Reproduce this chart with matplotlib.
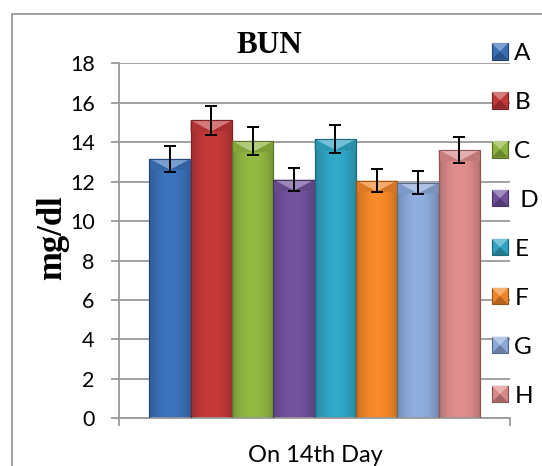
import numpy as np
import matplotlib
matplotlib.use("Agg")
import matplotlib.pyplot as plt
from matplotlib.patches import Rectangle, Polygon
from matplotlib.legend_handler import HandlerPatch
from matplotlib.colors import to_rgb

# ---- data ----
groups = ["A", "B", "C", " D", "E", "F", "G", "H"]
means = [13.15, 15.1, 14.05, 12.1, 14.15, 12.05, 11.95, 13.6]
errors = [0.65, 0.75, 0.7, 0.6, 0.7, 0.6, 0.6, 0.68]
colors = ["#3a6fb7", "#bf3737", "#8db33f", "#6f5099",
          "#2fa3c1", "#f08528", "#8aa7d7", "#d98888"]
category = "On 14th Day"
yticks = [0, 2, 4, 6, 8, 10, 12, 14, 16, 18]

SANS = ["Lato", "DejaVu Sans"]
SERIF = ["Liberation Serif", "DejaVu Serif"]
GRID = "#9a9a9a"


def mix(c, other, t):
    a = np.array(to_rgb(c))
    b = np.array(to_rgb(other))
    return tuple(a * (1 - t) + b * t)


fig = plt.figure(figsize=(5.42, 4.66), dpi=100)
ax = fig.add_axes([0.2203, 0.1024, 0.7207, 0.7618])

# outer chart-area border
fig.patches.append(Rectangle((0.0221, -0.1), 2.0, 1.0706, transform=fig.transFigure,
                             fill=False, edgecolor="#a0a0a0", linewidth=1.4))

# bar layout within the single category slot
n = len(groups)
group_frac = 0.847
bw = group_frac / n
start = (1 - group_frac) / 2
centers = [start + (i + 0.5) * bw for i in range(n)]

bevel_depth = 0.56
for xc, m, c in zip(centers, means, colors):
    x0 = xc - bw / 2
    bar = ax.bar(xc, m, width=bw, color=c, edgecolor=mix(c, "black", 0.35),
                 linewidth=0.8, zorder=2)[0]
    # horizontal shading across the bar face
    prof = np.linspace(-1, 1, 64)
    k = 1 - 0.22 * np.abs(prof) ** 2.2
    grad = np.array([[np.clip(np.array(to_rgb(c)) * kk * 1.04, 0, 1) for kk in k]])
    im = ax.imshow(grad, extent=(x0, x0 + bw, 0, m), aspect="auto",
                   interpolation="bilinear", zorder=2.5)
    im.set_clip_path(bar)
    # bevelled top
    ax.add_patch(Polygon([(x0, m), (x0 + bw, m), (xc, m - bevel_depth)],
                         closed=True, facecolor=mix(c, "white", 0.32),
                         edgecolor="none", zorder=3))
    ax.add_patch(Polygon([(x0, m), (xc, m - bevel_depth), (x0, m - bevel_depth)],
                         closed=True, facecolor=mix(c, "black", 0.08),
                         edgecolor="none", zorder=3))
    ax.add_patch(Polygon([(x0 + bw, m), (xc, m - bevel_depth), (x0 + bw, m - bevel_depth)],
                         closed=True, facecolor=mix(c, "black", 0.12),
                         edgecolor="none", zorder=3))
    ax.add_patch(Rectangle((x0, 0), bw, m, fill=False,
                           edgecolor=mix(c, "black", 0.35), linewidth=0.8, zorder=3.5))

ax.errorbar(centers, means, yerr=errors, fmt="none", ecolor="black",
            elinewidth=1.4, capsize=4.2, capthick=1.4, zorder=5)

ax.set_xlim(0, 1)
ax.set_ylim(0, 18)
ax.set_yticks(yticks)
ax.set_yticklabels([str(v) for v in yticks], fontfamily=SANS, fontsize=15.5)
ax.set_xticks([0, 1])
ax.set_xticklabels(["", ""])
ax.tick_params(axis="y", direction="out", length=5.8, width=1.3, color=GRID, pad=12)
ax.tick_params(axis="x", direction="out", length=5.8, width=1.3, color=GRID)
ax.yaxis.grid(True, color=GRID, linewidth=1.3)
ax.set_axisbelow(True)
for side in ("top", "right"):
    ax.spines[side].set_visible(False)
for side in ("left", "bottom"):
    ax.spines[side].set_color(GRID)
    ax.spines[side].set_linewidth(1.3)
ax.patch.set_alpha(0)

fig.text(0.4974, 0.8856, "BUN", ha="center", va="baseline", fontsize=22.5,
         fontweight="bold", family=SERIF)
fig.text(0.097, 0.49, "mg/dl", ha="center", va="center", rotation=90,
         fontsize=25, fontweight="bold", family=SERIF)
fig.text(0.581, 0.0086, category, ha="center", va="baseline", fontsize=17,
         family=SANS)


class BevelSquare(HandlerPatch):
    def create_artists(self, legend, orig_handle, xdescent, ydescent,
                       width, height, fontsize, trans):
        s = min(width, height)
        x0 = -xdescent + (width - s) / 2
        y0 = -ydescent + (height - s) / 2
        c = orig_handle.get_facecolor()
        cx, cy = x0 + s / 2, y0 + s / 2
        arts = [
            Rectangle((x0, y0), s, s, facecolor=c, edgecolor=mix(c, "black", 0.4),
                      linewidth=0.8, transform=trans),
            Polygon([(x0, y0 + s), (x0 + s, y0 + s), (cx, cy)],
                    facecolor=mix(c, "white", 0.35), edgecolor="none", transform=trans),
            Polygon([(x0, y0), (x0 + s, y0), (cx, cy)],
                    facecolor=mix(c, "black", 0.25), edgecolor="none", transform=trans),
        ]
        return arts


handles = [Rectangle((0, 0), 1, 1, facecolor=c) for c in colors]
fig.legend(handles, groups, loc="upper left", bbox_to_anchor=(0.9072, 0.908),
           frameon=False, borderpad=0, borderaxespad=0, handlelength=0.68,
           handleheight=0.68, handletextpad=0.25, labelspacing=1.15,
           prop={"family": SANS, "size": 17.5},
           handler_map={Rectangle: BevelSquare()})

fig.savefig("out.png", dpi=100)
